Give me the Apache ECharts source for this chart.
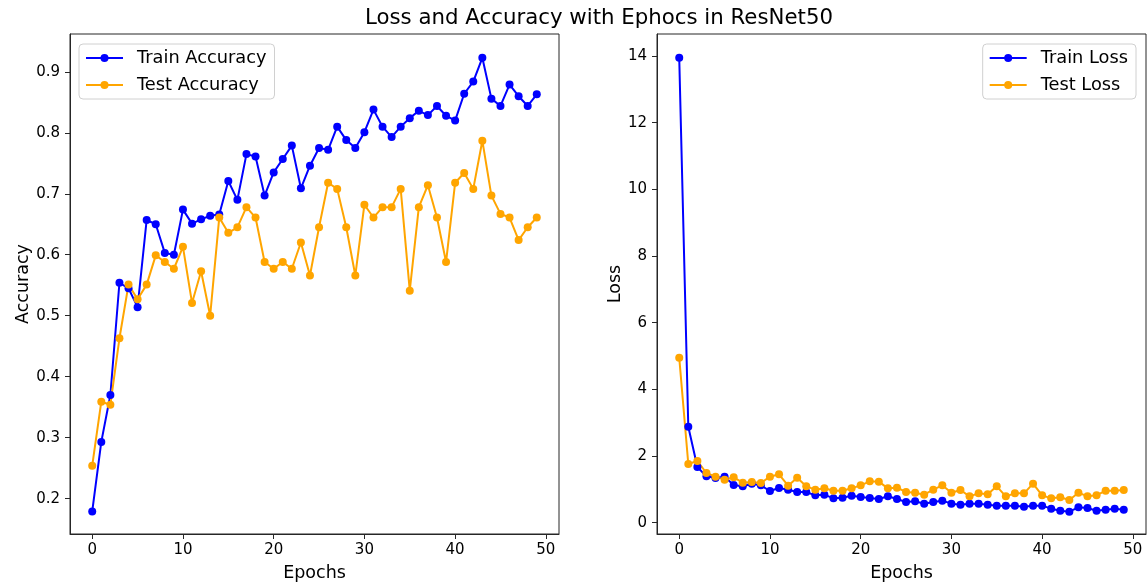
<!DOCTYPE html>
<html>
<head>
<meta charset="utf-8">
<script src="https://cdn.jsdelivr.net/npm/echarts@6/dist/echarts.min.js"></script>
<style>
  html, body { margin: 0; padding: 0; background: #fff; }
  #chart { width: 1148px; height: 587px; }
</style>
</head>
<body>
<div id="chart"></div>
<script>
const epochs = [0,1,2,3,4,5,6,7,8,9,10,11,12,13,14,15,16,17,18,19,20,21,22,23,24,25,26,27,28,29,30,31,32,33,34,35,36,37,38,39,40,41,42,43,44,45,46,47,48,49];
const trainAcc = [0.179,0.293,0.370,0.554,0.545,0.514,0.657,0.650,0.603,0.600,0.674,0.651,0.658,0.664,0.666,0.721,0.690,0.765,0.761,0.697,0.735,0.757,0.779,0.709,0.746,0.775,0.772,0.810,0.788,0.775,0.801,0.838,0.810,0.793,0.810,0.824,0.836,0.829,0.844,0.828,0.820,0.864,0.884,0.923,0.856,0.844,0.879,0.860,0.844,0.863];
const testAcc = [0.254,0.359,0.354,0.463,0.551,0.527,0.551,0.599,0.588,0.577,0.613,0.521,0.573,0.500,0.661,0.636,0.645,0.678,0.661,0.588,0.577,0.588,0.577,0.620,0.566,0.645,0.718,0.708,0.645,0.566,0.682,0.661,0.678,0.678,0.708,0.541,0.678,0.714,0.661,0.588,0.718,0.734,0.708,0.787,0.697,0.667,0.661,0.624,0.645,0.661];
const trainLoss = [13.95,2.88,1.67,1.39,1.34,1.38,1.13,1.09,1.17,1.12,0.95,1.04,0.99,0.92,0.92,0.82,0.84,0.73,0.75,0.81,0.77,0.74,0.71,0.79,0.71,0.62,0.64,0.57,0.62,0.66,0.57,0.54,0.57,0.57,0.54,0.51,0.51,0.51,0.48,0.51,0.51,0.42,0.36,0.33,0.46,0.44,0.36,0.39,0.42,0.39];
const testLoss = [4.95,1.76,1.85,1.49,1.38,1.29,1.36,1.20,1.22,1.19,1.38,1.45,1.11,1.35,1.09,0.99,1.03,0.96,0.96,1.03,1.12,1.24,1.23,1.03,1.05,0.92,0.90,0.84,0.99,1.12,0.90,0.98,0.79,0.88,0.85,1.09,0.79,0.88,0.88,1.17,0.82,0.73,0.76,0.68,0.90,0.79,0.82,0.96,0.96,0.98];
const xTicks = [0,10,20,30,40,50];
const accTicks = [0.2,0.3,0.4,0.5,0.6,0.7,0.8,0.9];
const lossTicks = [0,2,4,6,8,10,12,14];

const FONT = 'DejaVu Sans';
const BLUE = '#0000ff', ORANGE = '#ffa500', AX = '#262626';

const pairs = arr => epochs.map((e, i) => [e, arr[i]]);

function xAxis(gi) {
  return {
    type: 'value', gridIndex: gi, min: -2.45, max: 51.45,
    name: 'Epochs', nameLocation: 'middle', nameGap: 30,
    nameTextStyle: { fontFamily: FONT, fontSize: 17.5, color: '#000' },
    axisLine: { show: true, onZero: false, lineStyle: { color: AX, width: 1 } },
    axisTick: { show: true, inside: false, length: 5, customValues: xTicks, lineStyle: { color: AX } },
    axisLabel: { customValues: xTicks, margin: 9, fontFamily: FONT, fontSize: 15, color: '#000' },
    splitLine: { show: false }
  };
}
function yAxis(gi, min, max, ticks, name, gap, dec) {
  return {
    type: 'value', gridIndex: gi, min: min, max: max,
    name: name, nameLocation: 'middle', nameGap: gap,
    nameTextStyle: { fontFamily: FONT, fontSize: 17.5, color: '#000' },
    axisLine: { show: true, onZero: false, lineStyle: { color: AX, width: 1 } },
    axisTick: { show: true, inside: false, length: 5, customValues: ticks, lineStyle: { color: AX } },
    axisLabel: { customValues: ticks, margin: 10, fontFamily: FONT, fontSize: 15, color: '#000',
      formatter: v => (+v).toFixed(dec) },
    splitLine: { show: false }
  };
}
function line(name, data, color, xi, yi) {
  return {
    name: name, type: 'line', xAxisIndex: xi, yAxisIndex: yi,
    data: pairs(data), symbol: 'circle', symbolSize: 8, showSymbol: true,
    lineStyle: { color: color, width: 2 }, itemStyle: { color: color },
    animation: false
  };
}
const legendCommon = {
  orient: 'vertical', itemWidth: 37, itemHeight: 10, itemGap: 9,
  backgroundColor: '#fff', borderColor: '#d0d0d0', borderWidth: 1, borderRadius: 4,
  padding: [5, 8, 5, 6],
  textStyle: { fontFamily: FONT, fontSize: 17.8, color: '#000', padding: [0, 0, 0, 9] }
};

const chart = echarts.init(document.getElementById('chart'), null, { renderer: 'canvas' });
chart.setOption({
  animation: false,
  backgroundColor: '#fff',
  title: {
    text: 'Loss and Accuracy with Ephocs in ResNet50', left: 360, top: 3,
    textStyle: { fontFamily: FONT, fontSize: 21.3, fontWeight: 'normal', color: '#000' }
  },
  legend: [
    Object.assign({ left: 79, top: 44, data: ['Train Accuracy', 'Test Accuracy'] }, legendCommon),
    Object.assign({ right: 12, top: 44, data: ['Train Loss', 'Test Loss'] }, legendCommon)
  ],
  grid: [
    { left: 70, top: 34, width: 489, height: 500, show: true, borderColor: AX, borderWidth: 1, backgroundColor: 'transparent' },
    { left: 657, top: 34, width: 489, height: 500, show: true, borderColor: AX, borderWidth: 1, backgroundColor: 'transparent' }
  ],
  xAxis: [xAxis(0), xAxis(1)],
  yAxis: [
    yAxis(0, 0.142, 0.962, accTicks, 'Accuracy', 38, 1),
    yAxis(1, -0.34, 14.66, lossTicks, 'Loss', 33, 0)
  ],
  series: [
    line('Train Accuracy', trainAcc, BLUE, 0, 0),
    line('Test Accuracy', testAcc, ORANGE, 0, 0),
    line('Train Loss', trainLoss, BLUE, 1, 1),
    line('Test Loss', testLoss, ORANGE, 1, 1)
  ]
});
</script>
</body>
</html>
